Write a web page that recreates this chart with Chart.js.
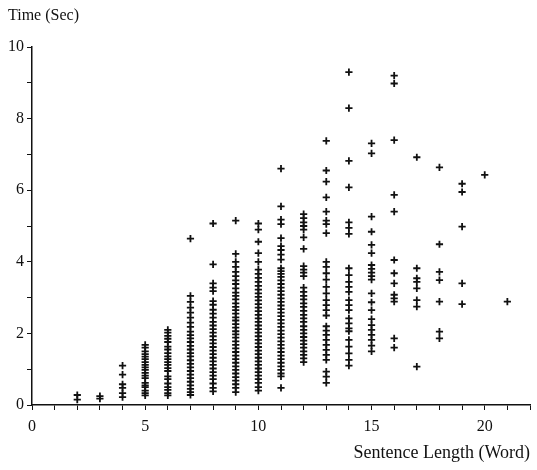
<!DOCTYPE html>
<html>
<head>
<meta charset="utf-8">
<script src="https://cdn.jsdelivr.net/npm/chart.js@4"></script>
<style>
  html, body { margin: 0; padding: 0; background: #fff; }
</style>
</head>
<body>
<canvas id="chart" width="537" height="470"></canvas>
<script>
// reading times (sec) per sentence length (words)
const len2 = [0.28, 0.15]
const len3 = [0.25, 0.18]
const len4 = [1.1, 0.85, 0.58, 0.48, 0.33, 0.22]
const len5 = [1.68, 1.6, 1.5, 1.42, 1.35, 1.28, 1.2, 1.12, 1.05, 0.98, 0.9, 0.82, 0.75, 0.62, 0.55, 0.5, 0.4, 0.33, 0.27]
const len6 = [2.1, 2.02, 1.93, 1.85, 1.76, 1.63, 1.55, 1.45, 1.36, 1.28, 1.2, 1.12, 1.03, 0.95, 0.8, 0.72, 0.6, 0.5, 0.42, 0.33, 0.27]
const len7 = [4.65, 3.05, 2.88, 2.72, 2.58, 2.44, 2.3, 2.18, 2.05, 1.95, 1.86, 1.76, 1.65, 1.55, 1.45, 1.36, 1.25, 1.15, 1.05, 0.95, 0.85, 0.75, 0.65, 0.55, 0.45, 0.36, 0.28]
const len8 = [5.07, 3.93, 3.4, 3.28, 3.18, 2.9, 2.8, 2.66, 2.55, 2.44, 2.32, 2.22, 2.12, 2.02, 1.92, 1.82, 1.72, 1.62, 1.52, 1.42, 1.32, 1.22, 1.12, 1.02, 0.92, 0.82, 0.72, 0.6, 0.48, 0.38]
const len9 = [5.15, 4.22, 4.0, 3.86, 3.72, 3.6, 3.48, 3.38, 3.26, 3.14, 3.05, 2.95, 2.84, 2.74, 2.65, 2.55, 2.45, 2.36, 2.26, 2.16, 2.06, 1.97, 1.88, 1.78, 1.68, 1.58, 1.48, 1.38, 1.28, 1.18, 1.08, 0.98, 0.88, 0.78, 0.68, 0.58, 0.48, 0.36]
const len10 = [5.07, 4.9, 4.56, 4.24, 4.0, 3.78, 3.66, 3.55, 3.44, 3.33, 3.22, 3.12, 3.02, 2.92, 2.82, 2.72, 2.62, 2.52, 2.42, 2.32, 2.22, 2.12, 2.02, 1.92, 1.82, 1.72, 1.62, 1.52, 1.42, 1.32, 1.22, 1.12, 1.02, 0.92, 0.82, 0.72, 0.62, 0.5, 0.4]
const len11 = [6.6, 5.55, 5.18, 5.05, 4.66, 4.44, 4.33, 4.2, 4.06, 3.82, 3.74, 3.66, 3.58, 3.48, 3.38, 3.28, 3.18, 3.08, 2.98, 2.88, 2.78, 2.68, 2.58, 2.48, 2.38, 2.28, 2.18, 2.08, 1.98, 1.88, 1.78, 1.68, 1.58, 1.48, 1.38, 1.28, 1.18, 1.08, 0.98, 0.88, 0.8, 0.48]
const len12 = [5.33, 5.22, 5.1, 5.0, 4.9, 4.68, 4.36, 3.88, 3.78, 3.7, 3.6, 3.28, 3.16, 3.05, 2.95, 2.84, 2.74, 2.63, 2.52, 2.42, 2.32, 2.2, 2.1, 2.0, 1.9, 1.8, 1.7, 1.6, 1.5, 1.4, 1.3, 1.2]
const len13 = [7.38, 6.55, 6.24, 5.8, 5.4, 5.15, 5.05, 4.8, 4.0, 3.86, 3.68, 3.5, 3.3, 3.12, 2.93, 2.79, 2.65, 2.5, 2.2, 2.08, 1.96, 1.82, 1.68, 1.54, 1.4, 1.26, 0.93, 0.79, 0.62]
const len14 = [9.3, 8.29, 6.82, 6.08, 5.1, 4.95, 4.78, 3.82, 3.63, 3.44, 3.3, 3.16, 2.93, 2.79, 2.65, 2.42, 2.28, 2.14, 2.06, 1.82, 1.63, 1.44, 1.26, 1.1]
const len15 = [7.31, 7.03, 5.26, 4.84, 4.47, 4.24, 3.91, 3.8, 3.7, 3.6, 3.5, 3.12, 2.87, 2.65, 2.4, 2.23, 2.1, 1.96, 1.82, 1.66, 1.5]
const len16 = [9.2, 8.98, 7.4, 5.87, 5.4, 4.05, 3.68, 3.4, 3.08, 2.98, 2.89, 1.86, 1.6]
const len17 = [6.92, 3.82, 3.54, 3.44, 3.26, 2.93, 2.75, 1.07]
const len18 = [6.64, 4.49, 3.72, 3.49, 2.89, 2.05, 1.86]
const len19 = [6.18, 5.95, 4.98, 3.4, 2.82]
const len20 = [6.43]
const len21 = [2.89]

const lengths = [2, 3, 4, 5, 6, 7, 8, 9, 10, 11, 12, 13, 14, 15, 16, 17, 18, 19, 20, 21]
const times = [len2, len3, len4, len5, len6, len7, len8, len9, len10, len11,
  len12, len13, len14, len15, len16, len17, len18, len19, len20, len21]

const xLabels = [0, 5, 10, 15, 20]
const yLabels = [0, 2, 4, 6, 8, 10]

let points = []
lengths.forEach((len, i) => {
  times[i].forEach(t => points.push({ x: len, y: t }))
})

const ink = '#111'
const serif = 'Liberation Serif, Times New Roman, serif'

new Chart(document.getElementById('chart'), {
  type: 'scatter',
  data: {
    datasets: [{
      data: points,
      pointStyle: 'cross',
      pointRadius: 3.6,
      pointBorderWidth: 1.8,
      borderColor: ink,
      backgroundColor: ink,
    }],
  },
  options: {
    responsive: false,
    animation: false,
    layout: { padding: { left: 8, right: 3, top: 0, bottom: 0 } },
    plugins: {
      legend: { display: false },
      tooltip: { enabled: false },
      title: {
        display: true,
        text: 'Time (Sec)',
        align: 'start',
        color: ink,
        font: { family: serif, size: 16, weight: 'normal' },
        padding: { top: 6, bottom: 21.8 },
      },
    },
    scales: {
      x: {
        type: 'linear',
        min: 0,
        max: 22,
        afterFit: (s) => { s.height = 65 },
        border: { color: ink, width: 1.5 },
        grid: { drawOnChartArea: false, color: ink, tickLength: 5 },
        ticks: {
          stepSize: 1,
          autoSkip: false,
          maxRotation: 0,
          padding: 7,
          color: ink,
          font: { family: serif, size: 16 },
          callback: (v) => xLabels.includes(v) ? v : '',
        },
        title: {
          display: true,
          text: 'Sentence Length (Word)',
          align: 'end',
          color: ink,
          font: { family: serif, size: 18 },
          padding: { top: 0, bottom: 6 },
        },
      },
      y: {
        type: 'linear',
        min: 0,
        max: 10,
        afterFit: (s) => { s.width = 24 },
        border: { color: ink, width: 1.5 },
        grid: { drawOnChartArea: false, color: ink, tickLength: 5 },
        ticks: {
          stepSize: 1,
          autoSkip: false,
          padding: 3,
          color: ink,
          font: { family: serif, size: 16 },
          callback: (v) => yLabels.includes(v) ? v : '',
        },
      },
    },
  },
});
</script>
</body>
</html>
